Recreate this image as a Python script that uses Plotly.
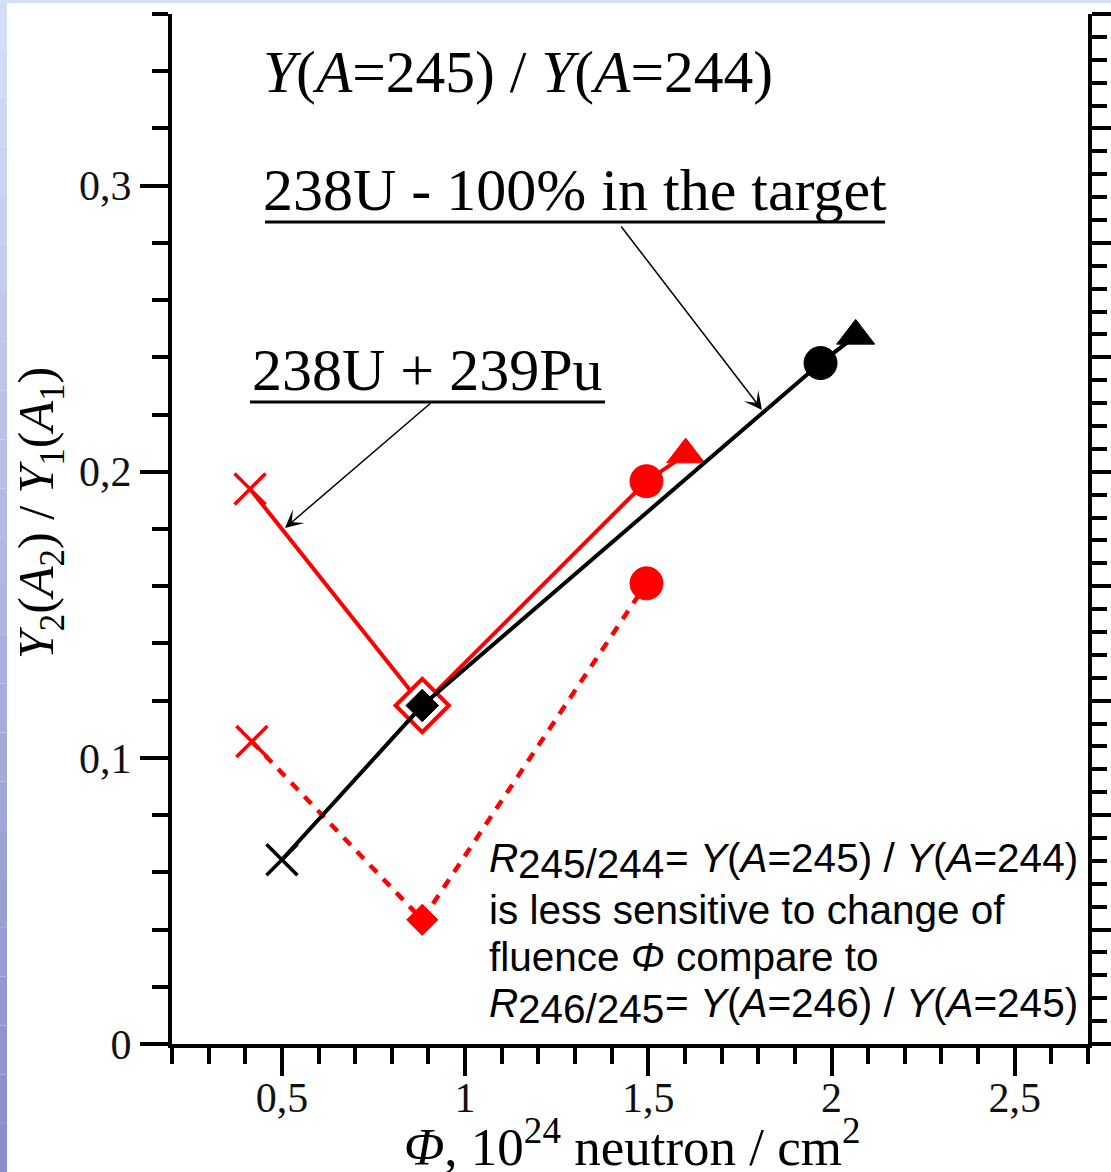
import plotly.graph_objects as go
import numpy as np

# ---------------- data ----------------
black_x = [0.50, 0.883, 1.970, 2.066]
black_y = [0.0644, 0.1183, 0.2380, 0.2475]
black_sym = ["x-thin", "diamond", "circle", "triangle-up"]

red_solid_x = [0.413, 0.883, 1.495, 1.602]
red_solid_y = [0.194, 0.1183, 0.1967, 0.2060]
red_solid_sym = ["x-thin", "diamond", "circle", "triangle-up"]

red_dash_x = [0.418, 0.883, 1.495]
red_dash_y = [0.1057, 0.0434, 0.1610]
red_dash_sym = ["x-thin", "diamond", "circle"]

x_tickvals = [0.5, 1.0, 1.5, 2.0, 2.5]
x_ticktext = ["0,5", "1", "1,5", "2", "2,5"]
y_tickvals = [0.0, 0.1, 0.2, 0.3]
y_ticktext = ["0", "0,1", "0,2", "0,3"]

X_RANGE = [0.2, 2.7]
Y_RANGE = [0.0, 0.36]

# ---------------- layout geometry ----------------
W, H = 1111, 1172
L, R, T, B = 172, 23, 14, 128
PW = W - L - R
PH = H - T - B
PBOT = H - B

def pp(px, py):
    return (px - L) / PW, (PBOT - py) / PH

SERIF = "Liberation Serif, Times New Roman, serif"
SANS = "Liberation Sans, Arial, sans-serif"
RED = "#ff0000"
BLK = "#000000"

fig = go.Figure()

# red solid series
fig.add_trace(go.Scatter(
    x=red_solid_x, y=red_solid_y, mode="lines+markers",
    line=dict(color=RED, width=4),
    marker=dict(symbol=red_solid_sym, size=[31, 41, 33, 33], opacity=1,
                color=[RED, "white", RED, RED],
                line=dict(color=RED, width=[3.5, 4, 1, 1])),
    showlegend=False, cliponaxis=False))

# red dashed series
fig.add_trace(go.Scatter(
    x=red_dash_x, y=red_dash_y, mode="lines+markers",
    line=dict(color=RED, width=4.5, dash="10px,9px"),
    marker=dict(symbol=red_dash_sym, size=[31, 24, 33], opacity=1,
                color=RED, line=dict(color=RED, width=[3.5, 1, 1])),
    showlegend=False, cliponaxis=False))

# black series
fig.add_trace(go.Scatter(
    x=black_x, y=black_y, mode="lines+markers",
    line=dict(color=BLK, width=4),
    marker=dict(symbol=black_sym, size=[31, 25, 33, 33], opacity=1,
                color=BLK, line=dict(color=BLK, width=[3.5, 1, 1, 1])),
    showlegend=False, cliponaxis=False))

# invisible trace to anchor right axis
fig.add_trace(go.Scatter(x=[X_RANGE[0]], y=[Y_RANGE[0]], yaxis="y2",
                         mode="markers", marker=dict(opacity=0),
                         showlegend=False, hoverinfo="skip"))

x_minor = [round(v, 2) for v in np.arange(0.2, 2.7001, 0.1)]
y_minor = [round(v, 3) for v in np.arange(0.0, 0.3601, 0.02)]
y2_major = [round(v, 3) for v in np.arange(0.0, 0.3601, 0.04)]
y2_minor = [round(v, 3) for v in np.arange(0.0, 0.3601, 0.008)]

axis_common = dict(showline=True, linecolor=BLK, linewidth=4,
                   showgrid=False, zeroline=False, ticks="outside",
                   tickcolor=BLK, tickwidth=4, automargin=False)

fig.update_layout(
    width=W, height=H,
    margin=dict(l=L, r=R, t=T, b=B, autoexpand=False),
    paper_bgcolor="white", plot_bgcolor="white",
    xaxis=dict(range=X_RANGE, tickmode="array", tickvals=x_tickvals,
               ticktext=x_ticktext, ticklen=28, ticklabelstandoff=-14,
               tickfont=dict(family=SERIF, size=42, color="#111"),
               minor=dict(tickmode="array", tickvals=x_minor, ticks="outside",
                          ticklen=16, tickwidth=4, tickcolor=BLK),
               **axis_common),
    yaxis=dict(range=Y_RANGE, tickmode="array", tickvals=y_tickvals,
               ticktext=y_ticktext, ticklen=28,
               tickfont=dict(family=SERIF, size=42, color="#111"),
               minor=dict(tickmode="array", tickvals=y_minor, ticks="outside",
                          ticklen=16, tickwidth=4, tickcolor=BLK),
               **axis_common),
    yaxis2=dict(range=Y_RANGE, overlaying="y", side="right",
                tickmode="array", tickvals=y2_major, showticklabels=False,
                ticklen=26,
                minor=dict(tickmode="array", tickvals=y2_minor, ticks="outside",
                           ticklen=15, tickwidth=4, tickcolor=BLK),
                **axis_common),
)

# background strips (blue frame of the slide)
shapes = []
x0, _ = pp(0, 0)
x1, _ = pp(7, 0)
nb = 24
c_top = np.array([214, 224, 250])
c_bot = np.array([136, 140, 200])
for i in range(nb):
    t0 = i / nb
    t1 = (i + 1) / nb
    c = (c_top + (c_bot - c_top) * (t0 + t1) / 2).astype(int)
    _, ya = pp(0, H * t0)
    _, yb = pp(0, H * t1)
    shapes.append(dict(type="rect", xref="paper", yref="paper",
                       x0=x0, x1=x1, y0=yb, y1=ya, line=dict(width=0),
                       fillcolor=f"rgb({c[0]},{c[1]},{c[2]})", layer="below"))
xa, ya = pp(0, 0)
xb, yb = pp(W, 3)
shapes.append(dict(type="rect", xref="paper", yref="paper", x0=xa, x1=xb,
                   y0=yb, y1=ya, line=dict(width=0), fillcolor="rgb(214,224,250)",
                   layer="below"))

# underlines
for (ux0, ux1, uy) in [(265, 885, 222), (250, 605, 402)]:
    a, b_ = pp(ux0, uy)
    c_, _ = pp(ux1, uy)
    shapes.append(dict(type="line", xref="paper", yref="paper",
                       x0=a, x1=c_, y0=b_, y1=b_, line=dict(color=BLK, width=3)))
fig.update_layout(shapes=shapes)

ann = []

def text_at(px, py, text, family, size, xanchor="center", yanchor="middle", angle=0, yshift=0):
    x, y = pp(px, py)
    ann.append(dict(xref="paper", yref="paper", x=x, y=y, text=text,
                    showarrow=False, xanchor=xanchor, yanchor=yanchor,
                    textangle=angle, yshift=yshift,
                    font=dict(family=family, size=size, color=BLK)))

text_at(518, 72, "<i>Y</i>(<i>A</i>=245) / <i>Y</i>(<i>A</i>=244)", SERIF, 59.5)
text_at(575, 190, "238U - 100% in the target", SERIF, 60)
text_at(427, 370, "238U + 239Pu", SERIF, 60)

# axis titles
text_at(632, 1143, "<i>Φ</i>, 10<sup>24</sup> neutron / cm<sup>2</sup>", SERIF, 53)
text_at(40, 513, "<i>Y</i><sub>2</sub>(<i>A</i><sub>2</sub>) / <i>Y</i><sub>1</sub>(<i>A</i><sub>1</sub>)",
        SERIF, 50, angle=-90)

# explanatory text box
FS = 40.5
x_r = 487
x_sub = x_r + 0.722 * FS
x_eq = x_sub + 3.614 * FS
for (py, sub, rest) in [(858, "245/244", "= <i>Y</i>(<i>A</i>=245) / <i>Y</i>(<i>A</i>=244)"),
                        (1003, "246/245", "= <i>Y</i>(<i>A</i>=246) / <i>Y</i>(<i>A</i>=245)")]:
    text_at(x_r, py, "<i>R</i>", SANS, FS, xanchor="left")
    text_at(x_sub, py, sub, SANS, FS, xanchor="left", yshift=-6)
    text_at(x_eq, py, rest, SANS, FS, xanchor="left")
text_at(x_r, 910, "is less sensitive to change of", SANS, FS, xanchor="left")
text_at(x_r, 957, "fluence <i>Φ</i> compare to", SANS, FS, xanchor="left")

# arrows
for (hx, hy, tx, ty) in [(762, 410, 620, 225), (285, 528, 432, 402)]:
    x, y = pp(hx, hy)
    ann.append(dict(xref="paper", yref="paper", x=x, y=y, text="",
                    showarrow=True, ax=tx - hx, ay=ty - hy,
                    arrowhead=3, arrowsize=2, arrowwidth=1.5, arrowcolor=BLK))

fig.update_layout(annotations=ann)

fig.write_html("out.html", config={"displayModeBar": False},
               post_script="document.body.style.margin='0';document.body.style.overflow='hidden';")
